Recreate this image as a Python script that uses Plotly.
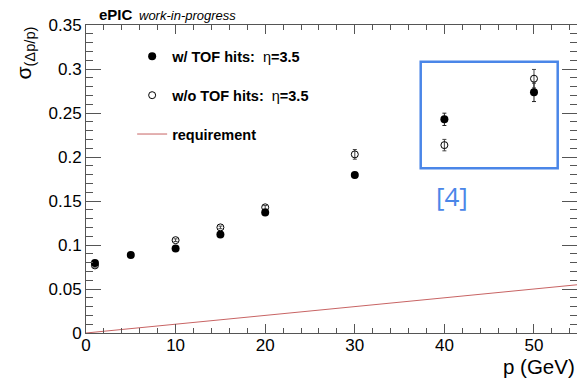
import plotly.graph_objects as go

# ---- data ----
p_tof = [1, 5, 10, 15, 20, 30, 40, 50]
sig_tof = [0.0795, 0.0885, 0.096, 0.112, 0.137, 0.1795, 0.2428, 0.2735]
err_tof = [0.002, 0.0015, 0.0015, 0.0015, 0.002, 0.003, 0.007, 0.0105]

p_notof = [1, 10, 15, 20, 30, 40, 50]
sig_notof = [0.0768, 0.1055, 0.120, 0.1428, 0.203, 0.2135, 0.289]
err_notof = [0.002, 0.0015, 0.0015, 0.002, 0.0055, 0.0065, 0.0105]

p_req = [0, 55]
sig_req = [0.0, 0.055]

x_ticks = [0, 10, 20, 30, 40, 50]
y_ticks = [0, 0.05, 0.1, 0.15, 0.2, 0.25, 0.3, 0.35]

FONT = "Liberation Sans, Arial, Helvetica, sans-serif"
AXC = "#555555"
BLUE = "#4a86e8"

fig = go.Figure()

fig.add_trace(go.Scatter(
    x=p_req, y=sig_req, mode="lines", name="<b>requirement</b>",
    line=dict(color="#c86464", width=1), legendgroup="c", legendrank=3,
))
fig.add_trace(go.Scatter(
    x=p_notof, y=sig_notof, mode="markers", name="<b>w/o TOF hits:</b>  η<b>=3.5</b>",
    marker=dict(symbol="circle-open", size=7, color="black", line=dict(width=1, color="black")),
    error_y=dict(type="data", array=err_notof, color="#444444", thickness=1, width=2),
    legendgroup="b", legendrank=2,
))
fig.add_trace(go.Scatter(
    x=p_tof, y=sig_tof, mode="markers", name="<b>w/ TOF hits:</b>  η<b>=3.5</b>",
    marker=dict(symbol="circle", size=8, color="black"),
    error_y=dict(type="data", array=err_tof, color="#222222", thickness=1, width=2),
    legendgroup="a", legendrank=1,
))

fig.update_layout(
    width=577, height=378,
    margin=dict(l=86, r=0, t=25, b=45),
    paper_bgcolor="white", plot_bgcolor="white",
    font=dict(family=FONT, color="black"),
    showlegend=True,
    legend=dict(
        x=0.094, y=0.95, xanchor="left", yanchor="top",
        bgcolor="rgba(0,0,0,0)", font=dict(size=14.5, family=FONT),
        traceorder="grouped", tracegroupgap=17, itemwidth=30,
    ),
    xaxis=dict(
        range=[0, 54.8], tickvals=x_ticks, ticks="inside", ticklen=9,
        tickcolor=AXC, showline=True, linecolor=AXC, linewidth=1,
        mirror="ticks", showgrid=False, zeroline=False,
        tickfont=dict(size=17, family=FONT), ticklabelstandoff=-3,
        minor=dict(dtick=2, ticks="inside", ticklen=5, tickcolor=AXC, showgrid=False),
    ),
    yaxis=dict(
        range=[0, 0.35], tickvals=y_ticks, ticks="inside", ticklen=15,
        tickcolor=AXC, showline=True, linecolor=AXC, linewidth=1,
        mirror="ticks", showgrid=False, zeroline=False,
        tickfont=dict(size=17, family=FONT),
        minor=dict(dtick=0.01, ticks="inside", ticklen=7, tickcolor=AXC, showgrid=False),
    ),
)

# blue highlight box and label
fig.add_shape(type="rect", xref="paper", yref="paper",
              x0=0.6817, x1=0.9607, y0=0.5347, y1=0.8808,
              line=dict(color=BLUE, width=2.5), fillcolor="rgba(0,0,0,0)")
fig.add_annotation(xref="paper", yref="paper", x=0.7454, y=0.4448,
                   text="[4]", showarrow=False, xanchor="center", yanchor="middle",
                   font=dict(size=26, color=BLUE, family="Open Sans, DejaVu Sans, sans-serif"))

# title
fig.add_annotation(xref="paper", yref="paper", x=(97 - 86) / 491, y=1,
                   text="<b>ePIC</b>", showarrow=False, xanchor="left", yanchor="middle",
                   yshift=11, font=dict(size=15, family=FONT))
fig.add_annotation(xref="paper", yref="paper", x=(137 - 86) / 491, y=1,
                   text="<i>work-in-progress</i>", showarrow=False, xanchor="left", yanchor="middle",
                   yshift=10, font=dict(size=13, family=FONT))

# axis titles
fig.add_annotation(xref="paper", yref="paper", x=(24 - 86) / 491, y=1,
                   text="σ<sub>(Δp/p)</sub>", showarrow=False, textangle=-90,
                   xanchor="center", yanchor="top", font=dict(size=21, family=FONT))
fig.add_annotation(xref="paper", yref="paper", x=1, y=0,
                   text="p (GeV)", showarrow=False, xanchor="right", yanchor="middle",
                   yshift=-33, font=dict(size=20.5, family=FONT))

fig.write_html("out.html")
